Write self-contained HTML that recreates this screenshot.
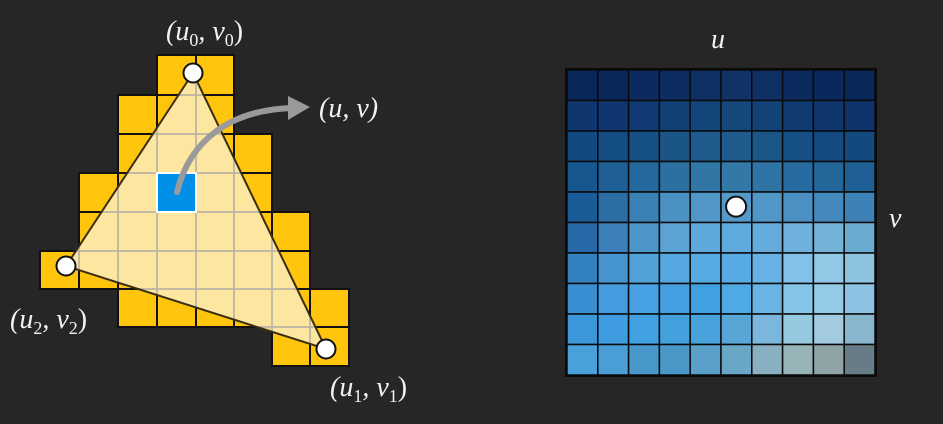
<!DOCTYPE html>
<html><head><meta charset="utf-8"><style>
html,body{margin:0;padding:0;background:#262626;width:943px;height:424px;overflow:hidden}
text{font-family:"Liberation Serif",serif;fill:#f2f2f2}
</style></head><body>
<svg id="fig" width="943" height="424" viewBox="0 0 943 424">
<rect width="943" height="424" fill="#262626"/>
<g id="raster"></g>
<g id="tex"></g>
<g font-size="28" font-style="italic">
<text x="166" y="40">(u<tspan font-size="18" dy="6" font-style="normal">0</tspan><tspan dy="-6">, v</tspan><tspan font-size="18" dy="6" font-style="normal">0</tspan><tspan dy="-6" font-style="normal">)</tspan></text>
<text x="319" y="117">(u, v)</text>
<text x="10" y="328">(u<tspan font-size="18" dy="6" font-style="normal">2</tspan><tspan dy="-6">, v</tspan><tspan font-size="18" dy="6" font-style="normal">2</tspan><tspan dy="-6" font-style="normal">)</tspan></text>
<text x="330" y="396">(u<tspan font-size="18" dy="6" font-style="normal">1</tspan><tspan dy="-6">, v</tspan><tspan font-size="18" dy="6" font-style="normal">1</tspan><tspan dy="-6" font-style="normal">)</tspan></text>
<text x="711" y="48">u</text>
<text x="889" y="227">v</text>
</g>
</svg>
<script>
// Raster data: filled columns per row
const rowStart=[3,2,2,1,1,0,2,6];
const rowEnd=[4,4,5,5,6,6,7,7];
const colEdges=[40,79,118,157,196,234,272,310,349];
const rowEdges=[55,95,134,173,212,251,289,327,366];
const verts=[[193,73],[326,349],[66,266]];
const sampleCell=[3,3];
// Texture colours (10x10)
const texRows=[
["#0a275a","#0a275a","#0c2a5e","#0d2d62","#0f3064","#103366","#0f3064","#0b2b5f","#0a285b","#0a275a"],
["#0f366e","#0f3670","#103a74","#124076","#14457a","#15477b","#134278","#0f3a72","#0f366e","#0e346c"],
["#134981","#144c84","#165085","#1b5588","#1e5a8c","#1f5b8c","#1b5689","#164e86","#144a82","#134880"],
["#175790","#1e6096","#23699d","#2a71a2","#3077a6","#3279a8","#2e74a5","#276ca0","#236699","#1e6096"],
["#195c98","#2a6ea3","#3a82b5","#4a92c3","#5097c8","#5399c9","#5096c7","#4a90c2","#4489bd","#3d82b7"],
["#2769a6","#3c80bb","#4c95c9","#5aa3d4","#5ea9db","#5eaadc","#63acdc","#6eb1dc","#74b3d8","#6aabd2"],
["#3381bf","#4593cf","#52a2da","#57a8e0","#58aae2","#58aae2","#66b2e4","#82c2e8","#91c8e6","#8bc3e0"],
["#3a8fd3","#449be0","#46a0e2","#44a0e0","#3fa0e2","#4eaae3","#68b4e4","#87c5e8","#95cae6","#8cc2e2"],
["#3c96da","#3f9ce0","#40a0e2","#42a0dd","#4aa2dc","#58a6d6","#7bb6dc","#96c8e0","#a2cbe0","#88b6cc"],
["#4aa0d8","#4a9ed6","#4898cc","#4a98c8","#5aa0c8","#6aa6c6","#88b0c0","#98b4b8","#90a4a8","#687c88"]];
const samplePoint=[0.549,0.448];
const NS="http://www.w3.org/2000/svg";
function mk(t,a,p){const e=document.createElementNS(NS,t);for(const k in a)e.setAttribute(k,a[k]);p.appendChild(e);return e;}
const R=document.getElementById('raster');
for(let r=0;r<rowStart.length;r++){for(let c=rowStart[r];c<=rowEnd[r];c++){
 const el=mk('rect',{x:colEdges[c],y:rowEdges[r],width:colEdges[c+1]-colEdges[c],height:rowEdges[r+1]-rowEdges[r],fill:'#fec50c',stroke:'#111',"stroke-width":2},R);
 
 
}}
const pts=verts.map(v=>v.join(',')).join(' ');
const defs=mk('defs',{},R);
const cp=mk('clipPath',{id:'tc'},defs);
mk('polygon',{points:pts},cp);
const tri=mk('polygon',{points:pts,fill:'#fdeab0',"fill-opacity":0.9},R);


const gl=mk('g',{"clip-path":"url(#tc)",stroke:'#b8b2a4',"stroke-width":1.5},R);
for(const x of colEdges)mk('line',{x1:x,y1:50,x2:x,y2:370},gl);
for(const y of rowEdges)mk('line',{x1:35,y1:y,x2:355,y2:y},gl);
mk('polygon',{points:pts,fill:'none',stroke:'#3a2e10',"stroke-width":2},R);
const sc=mk('rect',{x:colEdges[sampleCell[0]],y:rowEdges[sampleCell[1]],width:colEdges[sampleCell[0]+1]-colEdges[sampleCell[0]],height:rowEdges[sampleCell[1]+1]-rowEdges[sampleCell[1]],fill:'#0090e8',stroke:'#fff',"stroke-width":2},R);


const ar=mk('path',{d:'M177,192 C190,140 230,110 292,108',fill:'none',stroke:'#9a9a9a',"stroke-width":6,"stroke-linecap":"round"},R);


mk('polygon',{points:'288,96 310,107 288,120',fill:'#9a9a9a'},R);
for(const v of verts){const c=mk('circle',{cx:v[0],cy:v[1],r:9.5,fill:'#fff',stroke:'#111',"stroke-width":2},R);
 
 }
// texture
const T=document.getElementById('tex');
const X0=567,Y0=70,W=308,H=305;
const xs=i=>X0+i*W/10, ys=j=>Y0+j*H/10;
mk('rect',{x:X0-2,y:Y0-2,width:W+4,height:H+4,fill:'#0a0a0a'},T);
for(let j=0;j<10;j++)for(let i=0;i<10;i++){
 const el=mk('rect',{x:xs(i),y:ys(j),width:W/10,height:H/10,fill:texRows[j][i],stroke:'#0a0a0a',"stroke-width":1.5},T);
 
 
}
const sp=mk('circle',{cx:X0+samplePoint[0]*W,cy:Y0+samplePoint[1]*H,r:10,fill:'#fff',stroke:'#111',"stroke-width":2},T);


</script>
</body></html>
